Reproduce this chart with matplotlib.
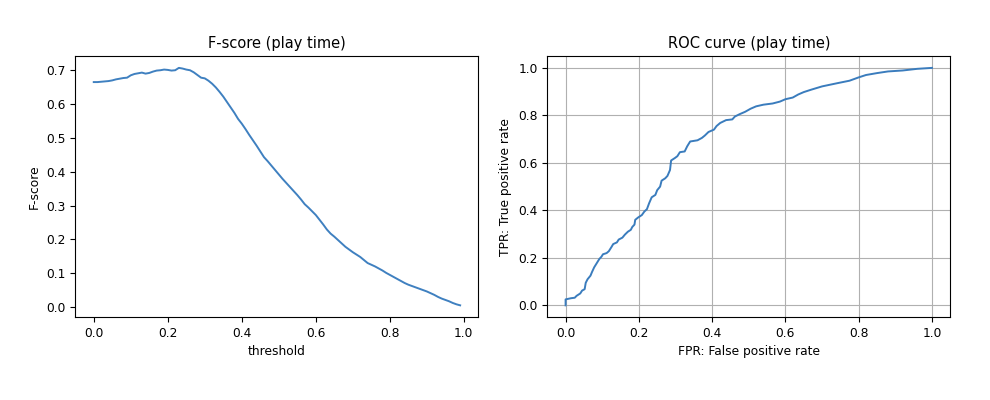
import matplotlib
matplotlib.use('Agg')
import matplotlib.pyplot as plt
import numpy as np

# F-score per threshold
thresholds = [round(i * 0.01, 2) for i in range(100)]
fscore = [
    0.665, 0.665, 0.666, 0.667, 0.668, 0.670, 0.673, 0.675, 0.677, 0.678,
    0.685, 0.689, 0.691, 0.693, 0.690, 0.692, 0.696, 0.699, 0.700, 0.702,
    0.701, 0.699, 0.700, 0.707, 0.705, 0.702, 0.700, 0.694, 0.686, 0.678,
    0.676, 0.669, 0.660, 0.649, 0.636, 0.622, 0.606, 0.590, 0.574, 0.556,
    0.542, 0.526, 0.509, 0.493, 0.477, 0.460, 0.443, 0.431, 0.418, 0.405,
    0.392, 0.379, 0.367, 0.355, 0.343, 0.331, 0.318, 0.304, 0.294, 0.283,
    0.272, 0.258, 0.244, 0.229, 0.217, 0.208, 0.198, 0.188, 0.178, 0.170,
    0.162, 0.155, 0.148, 0.139, 0.130, 0.125, 0.120, 0.114, 0.108, 0.101,
    0.095, 0.089, 0.083, 0.077, 0.071, 0.066, 0.062, 0.058, 0.054, 0.050,
    0.046, 0.041, 0.036, 0.030, 0.025, 0.021, 0.017, 0.012, 0.008, 0.005,
]

# ROC curve points
fpr = [
    0.000, 0.000, 0.015, 0.025, 0.030, 0.040, 0.045, 0.052, 0.055, 0.060,
    0.068, 0.072, 0.078, 0.086, 0.092, 0.098, 0.102, 0.112, 0.118, 0.125,
    0.130, 0.140, 0.145, 0.155, 0.162, 0.170, 0.178, 0.182, 0.188, 0.190,
    0.198, 0.208, 0.215, 0.222, 0.228, 0.235, 0.245, 0.250, 0.258, 0.262,
    0.272, 0.278, 0.285, 0.288, 0.298, 0.305, 0.312, 0.325, 0.332, 0.340,
    0.360, 0.372, 0.380, 0.390, 0.405, 0.412, 0.422, 0.438, 0.455, 0.462,
    0.475, 0.490, 0.505, 0.520, 0.540, 0.565, 0.585, 0.600, 0.620, 0.635,
    0.650, 0.670, 0.700, 0.740, 0.775, 0.800, 0.820, 0.850, 0.880, 0.920,
    0.960, 1.000,
]
tpr = [
    0.000, 0.025, 0.030, 0.032, 0.040, 0.050, 0.062, 0.068, 0.095, 0.110,
    0.125, 0.140, 0.160, 0.180, 0.195, 0.205, 0.215, 0.220, 0.228, 0.245,
    0.258, 0.265, 0.277, 0.285, 0.298, 0.310, 0.318, 0.330, 0.340, 0.360,
    0.370, 0.380, 0.395, 0.405, 0.430, 0.455, 0.465, 0.485, 0.500, 0.525,
    0.535, 0.545, 0.570, 0.610, 0.620, 0.628, 0.645, 0.648, 0.670, 0.690,
    0.695, 0.705, 0.715, 0.730, 0.740, 0.755, 0.768, 0.780, 0.783, 0.795,
    0.805, 0.815, 0.828, 0.838, 0.845, 0.850, 0.858, 0.868, 0.875, 0.888,
    0.898, 0.908, 0.922, 0.935, 0.946, 0.960, 0.970, 0.978, 0.985, 0.989,
    0.996, 1.000,
]

# smaller text, like the notebook export
plt.rcParams['font.size'] = 8.8
plt.rcParams['axes.titlesize'] = 10.5

fig = plt.figure(figsize=(9.9, 4), dpi=100)

# left: F-score
ax1 = fig.add_axes([0.0762, 0.207, 0.4071, 0.653])
ax1.plot(thresholds, fscore, color='#3f80c0', linewidth=1.4)
ax1.set_title('F-score (play time)')
ax1.set_xlabel('threshold')
ax1.set_ylabel('F-score')
ax1.set_xticks(np.arange(0, 1.01, 0.2))
ax1.set_yticks(np.arange(0, 0.71, 0.1))

# right: ROC curve
ax2 = fig.add_axes([0.5528, 0.207, 0.4071, 0.653])
ax2.plot(fpr, tpr, color='#3a7cbd', linewidth=1.4)
ax2.set_title('ROC curve (play time)')
ax2.set_xlabel('FPR: False positive rate')
ax2.set_ylabel('TPR: True positive rate')
ax2.set_xticks(np.arange(0, 1.01, 0.2))
ax2.set_yticks(np.arange(0, 1.01, 0.2))
ax2.grid(True)

fig.savefig('out.png', dpi=100)
